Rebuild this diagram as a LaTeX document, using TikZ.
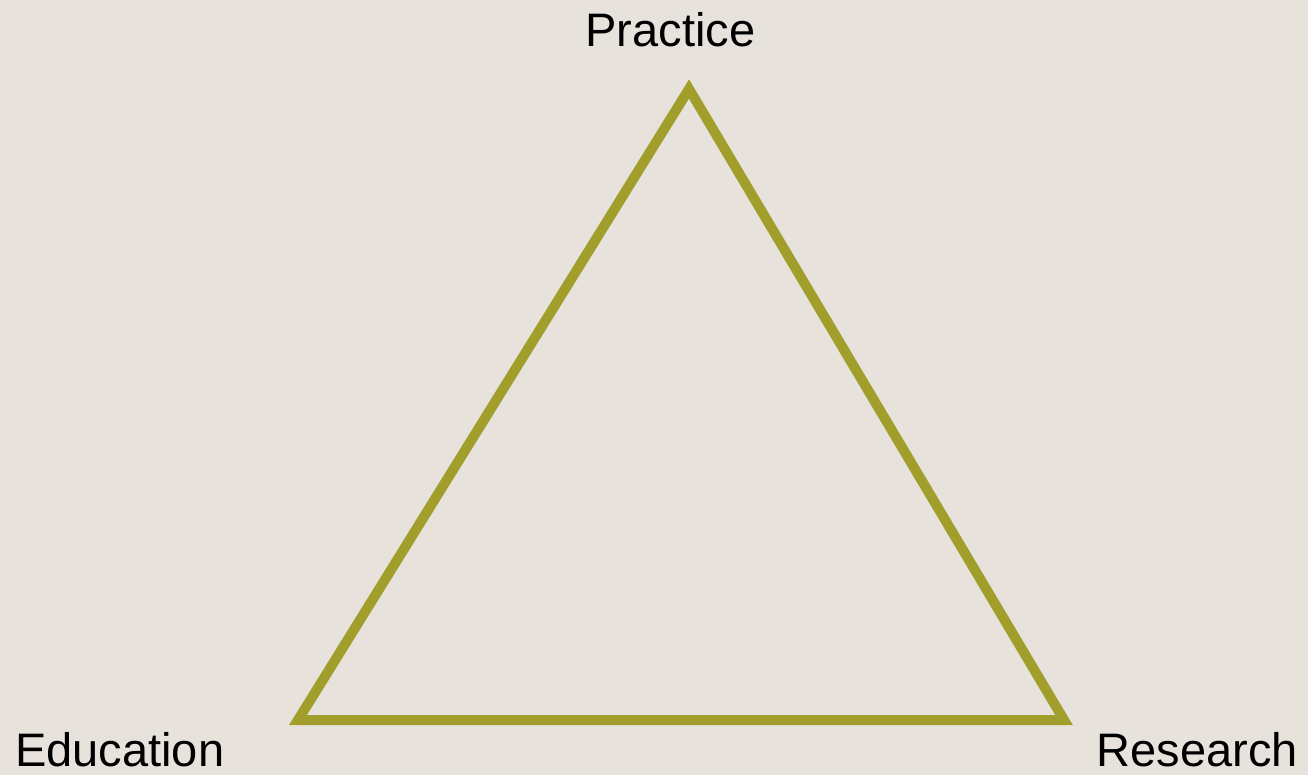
\documentclass[tikz,border=0pt]{standalone}
\usepackage{fontspec}
\setmainfont{Liberation Sans}
\definecolor{bg}{HTML}{E7E3DC}
\definecolor{olive}{HTML}{A19E2B}
\begin{document}
\begin{tikzpicture}[x=1pt,y=-1pt,
  lbl/.style={font=\fontsize{47}{56}\selectfont, inner sep=0pt, text=black},
  side/.style={draw=olive, line width=10pt, line join=miter}]
\fill[bg] (0,0) rectangle (1308,775);
\useasboundingbox (0,0) rectangle (1308,775);
\coordinate (P) at (689,89);
\coordinate (E) at (298,720);
\coordinate (R) at (1064,720);
\draw[side] (P) -- (E) -- (R) -- cycle;
\node[lbl, anchor=base] (practice) at (670.5,47) {Practice};
\node[lbl, anchor=base west] (education) at (15,766) {Education};
\node[lbl, anchor=base east] (research) at (1298,766) {Research};
\end{tikzpicture}
\end{document}
